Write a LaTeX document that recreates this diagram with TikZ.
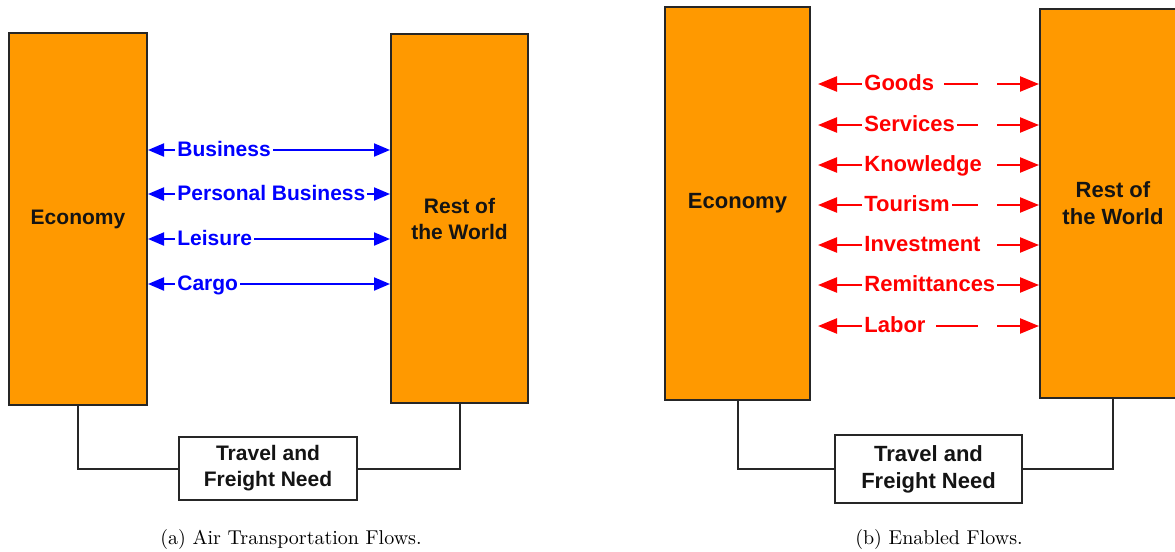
\documentclass[tikz,border=0pt]{standalone}
\usepackage{fontspec}
\newfontfamily\arial{Liberation Sans}
\usetikzlibrary{arrows.meta}
\definecolor{org}{RGB}{255,153,0}
\definecolor{edge}{RGB}{38,38,38}
\definecolor{ink}{RGB}{20,20,20}
\definecolor{flw}{RGB}{0,0,255}
\definecolor{enb}{RGB}{255,0,0}

\begin{document}
\begin{tikzpicture}[
    x=0.5pt, y=-0.5pt,
    box/.style={rectangle, draw=edge, line width=1pt, fill=#1, text=ink,
      align=center, inner sep=0pt},
    fa/.style={font=\arial\bfseries\fontsize{10.5}{13}\selectfont},
    fb/.style={font=\arial\bfseries\fontsize{11}{13.5}\selectfont},
    link/.style={draw=edge, line width=1pt},
    flowA/.style={{Triangle[length=8pt,width=6.5pt]}-{Triangle[length=8pt,width=6.5pt]},
      flw, line width=1pt},
    flowBl/.style={{Triangle[length=9.5pt,width=7.5pt]}-, enb, line width=1.2pt},
    flowBr/.style={-{Triangle[length=9.5pt,width=7.5pt]}, enb, line width=1.2pt},
    lblA/.style={fa, text=flw, fill=white, anchor=west, inner xsep=1pt,
      inner ysep=0pt, text height=7.6pt, text depth=1.4pt},
    lblB/.style={fb, text=enb, fill=white, anchor=west, inner xsep=1pt,
      inner ysep=0pt, text height=8pt, text depth=1.5pt},
    captext/.style={font=\normalsize, text=black}
  ]
  \useasboundingbox (0,0) rectangle (1175,552);

  % (a) air transportation flows
  \node[box=org, fa, minimum width=69pt, minimum height=186pt] (econA) at (78,219) {Economy};
  \node[box=org, fa, minimum width=68.5pt, minimum height=184.5pt] (restA) at (459.5,218.5) {Rest of\\the World};
  \node[box=white, fa, minimum width=89pt, minimum height=31.5pt] (needA) at (268,468.5) {Travel and\\Freight Need};

  \draw[link] (econA.south) |- (needA.west);
  \draw[link] (restA.south) |- (needA.east);

  \foreach \y/\name/\txt in {150/bus/Business, 194/pbus/Personal Business,
      239/leis/Leisure, 284/cargo/Cargo}{
    \draw[flowA] (econA.east |- 0,\y) -- (restA.west |- 0,\y);
    \node[lblA] (\name) at (175,\y) {\txt};
  }

  \node[captext] (capA) at (291,539) {(a) Air Transportation Flows.};

  % (b) enabled flows
  \node[box=org, fb, minimum width=72.5pt, minimum height=196.5pt] (econB) at (737.5,203.5) {Economy};
  \node[box=org, fb, minimum width=73pt, minimum height=194.5pt] (restB) at (1113,203.5) {Rest of\\the World};
  \node[box=white, fb, minimum width=93.5pt, minimum height=34pt] (needB) at (928.5,469) {Travel and\\Freight Need};

  \draw[link] (econB.south) |- (needB.west);
  \draw[link] (restB.south) |- (needB.east);

  \foreach \y/\name/\txt in {84/goods/Goods\kern4pt, 125/serv/Services,
      165/know/Knowledge, 205/tour/Tourism, 245/inv/Investment,
      285/remit/Remittances, 326/labor/Labor\kern4pt}{
    \coordinate (\name-l) at (978,\y);
    \coordinate (\name-r) at (997,\y);
    \draw[flowBl, shorten <=3.5pt] (econB.east |- 0,\y) -- (\name-l);
    \draw[flowBr] (\name-r) -- (restB.west |- 0,\y);
    \node[lblB] (\name) at (862,\y) {\txt};
  }

  \node[captext] (capB) at (939,539) {(b) Enabled Flows.};
\end{tikzpicture}
\end{document}
